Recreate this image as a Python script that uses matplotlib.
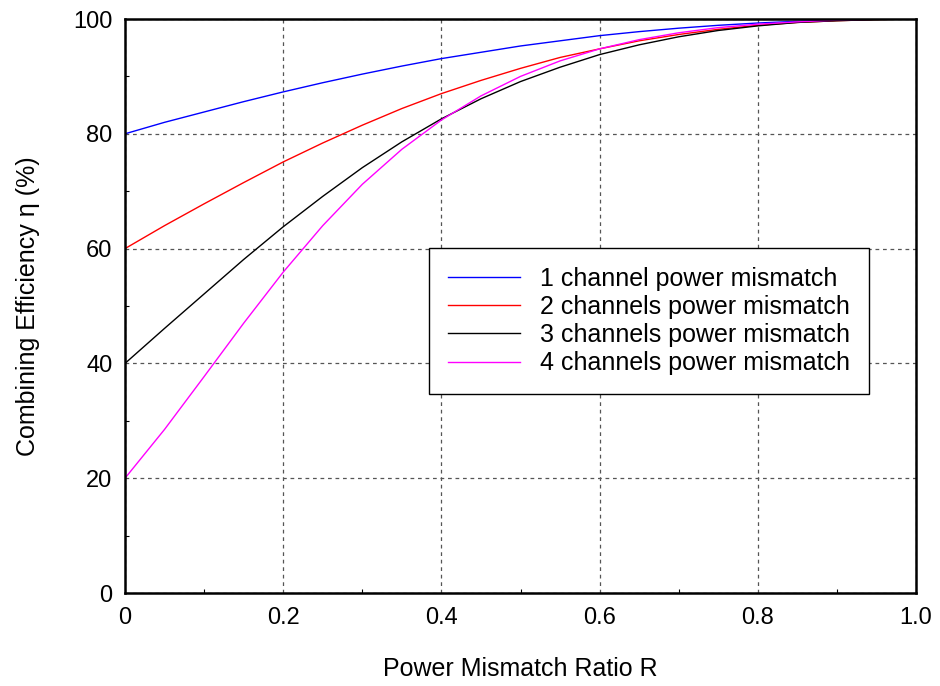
import matplotlib.pyplot as plt
from matplotlib.ticker import MultipleLocator

plt.rcParams['font.family'] = ['Liberation Sans', 'DejaVu Sans']

# power mismatch ratio R
ratio = [0.0, 0.05, 0.1, 0.15, 0.2, 0.25, 0.3, 0.35, 0.4, 0.45, 0.5,
         0.55, 0.6, 0.65, 0.7, 0.75, 0.8, 0.85, 0.9, 0.95, 1.0]

# combining efficiency (%)
eff_1ch = [80.0, 82.0, 83.8, 85.6, 87.3, 88.9, 90.4, 91.8, 93.1, 94.2, 95.3,
           96.2, 97.1, 97.8, 98.4, 98.9, 99.3, 99.6, 99.8, 99.96, 100.0]
eff_2ch = [60.0, 64.0, 67.8, 71.5, 75.1, 78.4, 81.5, 84.4, 87.0, 89.3, 91.4,
           93.3, 94.8, 96.2, 97.3, 98.2, 98.9, 99.4, 99.7, 99.9, 100.0]
eff_3ch = [40.0, 46.1, 52.1, 58.1, 63.8, 69.1, 74.1, 78.6, 82.6, 86.1, 89.1,
           91.6, 93.8, 95.5, 96.9, 98.0, 98.8, 99.4, 99.7, 99.9, 100.0]
eff_4ch = [20.0, 28.5, 37.7, 47.0, 55.9, 64.0, 71.2, 77.3, 82.4, 86.6, 90.0,
           92.7, 94.8, 96.4, 97.6, 98.5, 99.1, 99.5, 99.8, 99.96, 100.0]

labels = ['1 channel power mismatch', '2 channels power mismatch',
          '3 channels power mismatch', '4 channels power mismatch']
colors = ['#0000ff', '#ff0000', '#000000', '#ff00ff']

fig = plt.figure(figsize=(9.4, 6.86), dpi=100)
ax = fig.add_axes([125 / 940, 1 - 593 / 686, 791 / 940, 574 / 686])

for y, lab, c in zip([eff_1ch, eff_2ch, eff_3ch, eff_4ch], labels, colors):
    ax.plot(ratio, y, color=c, lw=1.0, label=lab)

ax.set_xlim(0, 1)
ax.set_ylim(0, 100)
ax.xaxis.set_minor_locator(MultipleLocator(0.1))
ax.yaxis.set_major_locator(MultipleLocator(20))
ax.yaxis.set_minor_locator(MultipleLocator(10))
ax.set_xticks([0, 0.2, 0.4, 0.6, 0.8, 1.0])
ax.set_xticklabels(['0', '0.2', '0.4', '0.6', '0.8', '1.0'])
ax.tick_params(which='both', direction='in', labelsize=17, top=False, right=False)
ax.tick_params(axis='x', which='major', length=0, pad=10)
ax.tick_params(axis='y', which='major', length=0, pad=9)
ax.tick_params(which='minor', length=3, width=0.8)
ax.grid(True, which='major', color='#555555', linestyle=(0, (3, 3)), lw=0.9)
for s in ax.spines.values():
    s.set_linewidth(1.8)

ax.set_xlabel('Power Mismatch Ratio R', fontsize=18, labelpad=20)
ax.set_ylabel('Combining Efficiency \u03b7 (%)', fontsize=18, labelpad=24)

leg = ax.legend(loc='center', bbox_to_anchor=(0.377, 0.347, 0.571, 0.254),
                fontsize=18, frameon=True, fancybox=False, edgecolor='black',
                handlelength=2.9, handletextpad=0.8, labelspacing=0.17,
                borderpad=0.75, framealpha=1)
leg.get_frame().set_linewidth(1.0)

fig.savefig('out.png', dpi=100)
